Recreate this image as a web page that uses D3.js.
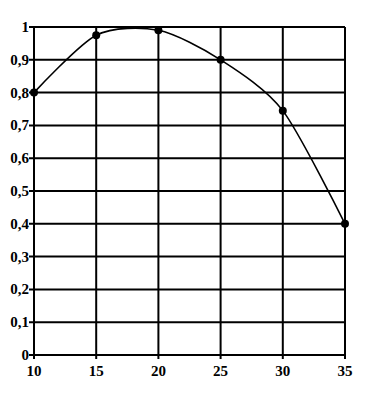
<!DOCTYPE html>
<html><head><meta charset="utf-8">
<script src="https://cdn.jsdelivr.net/npm/d3@7"></script>
<style>body{margin:0;background:#fff}svg{display:block}</style>
</head><body><svg id="c" width="391" height="400"></svg>
<script>
const xValues = [10, 15, 20, 25, 30, 35];
const yValues = [0.8, 0.975, 0.99, 0.9, 0.745, 0.4];
const xTicks = [10, 15, 20, 25, 30, 35];
const yTicks = [0, 0.1, 0.2, 0.3, 0.4, 0.5, 0.6, 0.7, 0.8, 0.9, 1];

const svg = d3.select("#c");
const x = d3.scaleLinear().domain([10, 35]).range([34, 345]);
const y = d3.scaleLinear().domain([0, 1]).range([355, 27]);
const fmt = v => v === 0 ? "0" : v === 1 ? "1" : String(v).replace(".", ",");

const g = svg.append("g");
g.selectAll(".hg").data(yTicks).join("line")
  .attr("x1", x(10) - 5).attr("x2", x(35))
  .attr("y1", d => y(d)).attr("y2", d => y(d))
  .attr("stroke", "#000").attr("stroke-width", 2);
g.selectAll(".vg").data(xTicks).join("line")
  .attr("x1", d => x(d)).attr("x2", d => x(d))
  .attr("y1", y(1)).attr("y2", y(0) + 4)
  .attr("stroke", "#000").attr("stroke-width", 2);

g.selectAll(".yl").data(yTicks).join("text")
  .attr("x", 29).attr("y", d => y(d) + 5)
  .attr("text-anchor", "end")
  .attr("font-family", "Liberation Serif, serif").attr("font-size", 15).attr("font-weight", "bold")
  .text(fmt);
g.selectAll(".xl").data(xTicks).join("text")
  .attr("x", d => x(d)).attr("y", 376)
  .attr("text-anchor", "middle")
  .attr("font-family", "Liberation Serif, serif").attr("font-size", 15).attr("font-weight", "bold")
  .text(d => d);

const pts = xValues.map((v, i) => [v, yValues[i]]);
const line = d3.line().x(d => x(d[0])).y(d => y(d[1])).curve(d3.curveCardinal.tension(0.2));
g.append("path").attr("d", line(pts)).attr("fill", "none").attr("stroke", "#000").attr("stroke-width", 1.6);
g.selectAll(".pt").data(pts).join("circle")
  .attr("cx", d => x(d[0])).attr("cy", d => y(d[1])).attr("r", 4).attr("fill", "#000");
</script></body></html>
